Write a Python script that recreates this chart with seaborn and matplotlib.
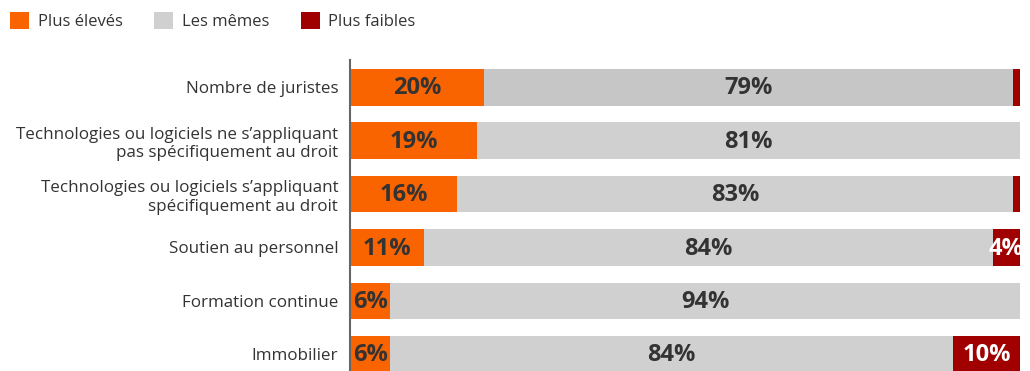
import numpy as np
import pandas as pd
import matplotlib
matplotlib.use("Agg")
import matplotlib.pyplot as plt
from matplotlib.patches import Patch
import seaborn as sns

# Survey answers per resource (percent of respondents)
categories = [
    "Nombre de juristes",
    "Technologies ou logiciels ne s\u2019appliquant\npas sp\u00e9cifiquement au droit",
    "Technologies ou logiciels s\u2019appliquant\nsp\u00e9cifiquement au droit",
    "Soutien au personnel",
    "Formation continue",
    "Immobilier",
]
plus_eleves = [20, 19, 16, 11, 6, 6]
les_memes = [79, 81, 83, 84, 94, 84]
plus_faibles = [1, 0, 1, 4, 0, 10]
series_names = ["Plus \u00e9lev\u00e9s", "Les m\u00eames", "Plus faibles"]

ORANGE = "#fa6400"
GRAY = "#d0d0d0"
GRAY_HI = "#c6c6c6"
RED = "#a00000"
TEXT = "#333333"

sns.set_theme(style="white")
plt.rcParams["font.family"] = ["Open Sans", "DejaVu Sans"]

# Each row is shown as a share of its own total (percent stacking)
hi = np.array(plus_eleves, float)
mid = np.array(les_memes, float)
lo = np.array(plus_faibles, float)
tot = hi + mid + lo
s_hi = hi / tot * 100
s_mid = mid / tot * 100
s_lo = lo / tot * 100

df = pd.DataFrame({
    "cat": categories,
    "end_lo": np.where(s_lo > 0, s_hi + s_mid + s_lo, 0),
    "end_mid": s_hi + s_mid,
    "end_hi": s_hi,
})

fig = plt.figure(figsize=(10.30, 3.71), dpi=100)
ax = fig.add_axes([350 / 1030, 0, 670 / 1030, 311 / 371])

bar_w = 0.687
# Layers drawn back to front: cumulative extents give the stacked look
sns.barplot(data=df, x="end_lo", y="cat", color=RED, width=bar_w,
            saturation=1, ax=ax, orient="h")
gray_cols = [GRAY_HI] + [GRAY] * (len(categories) - 1)
sns.barplot(data=df, x="end_mid", y="cat", hue="cat", palette=gray_cols,
            width=bar_w, saturation=1, ax=ax, orient="h", legend=False)
sns.barplot(data=df, x="end_hi", y="cat", color=ORANGE, width=bar_w,
            saturation=1, ax=ax, orient="h")
for p in ax.patches:
    p.set_linewidth(0)

ax.set_xlim(0, 100)
ax.set_ylim(5.313, -0.511)

# Segment value labels
lab_kw = dict(ha="center", va="center", fontsize=17, fontweight="bold")
for i in range(len(categories)):
    if plus_eleves[i] >= 2:
        ax.text(s_hi[i] / 2, i + 0.02, f"{plus_eleves[i]}%", color=TEXT, **lab_kw)
    if les_memes[i] >= 2:
        ax.text(s_hi[i] + s_mid[i] / 2, i + 0.02, f"{les_memes[i]}%", color=TEXT, **lab_kw)
    if plus_faibles[i] >= 2:
        ax.text(s_hi[i] + s_mid[i] + s_lo[i] / 2, i + 0.02, f"{plus_faibles[i]}%",
                color="white", **lab_kw)

ax.set_xlabel("")
ax.set_ylabel("")
ax.set_xticks([])
ax.tick_params(axis="y", length=0, pad=8.5, labelsize=12.25, labelcolor=TEXT)
for lbl in ax.get_yticklabels():
    lbl.set_linespacing(1.22)
for side in ["top", "right", "bottom"]:
    ax.spines[side].set_visible(False)
ax.spines["left"].set_color("#666666")
ax.spines["left"].set_linewidth(1.5)

handles = [Patch(facecolor=c, edgecolor="none") for c in (ORANGE, GRAY, RED)]
fig.legend(handles, series_names, loc="upper left",
           bbox_to_anchor=(10 / 1030, 1 - 12 / 371),
           ncol=3, frameon=False, fontsize=12, labelcolor=TEXT,
           handlelength=1.15, handleheight=1.15, handletextpad=0.5,
           columnspacing=1.9, borderaxespad=0, borderpad=0)

fig.savefig("out.png", dpi=100)
